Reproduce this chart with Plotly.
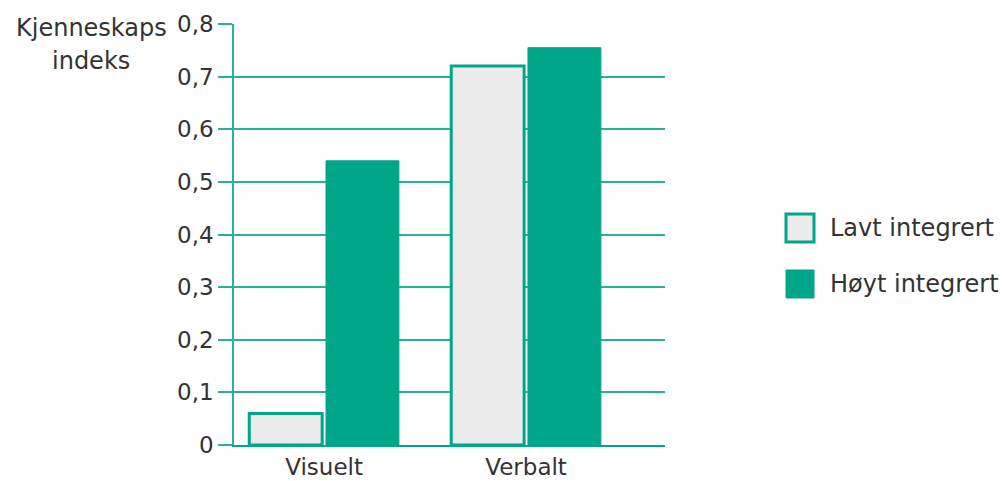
import plotly.graph_objects as go

categories = ["Visuelt", "Verbalt"]
lavt_integrert = [0.06, 0.72]
hoyt_integrert = [0.54, 0.755]
series_names = ["Lavt integrert", "Høyt integrert"]
y_ticks = [0, 0.1, 0.2, 0.3, 0.4, 0.5, 0.6, 0.7, 0.8]
y_title_lines = ["Kjenneskaps", "indeks"]

TEAL = "#00a68a"
GRID = "#27b39a"
LIGHT = "#ebebeb"
TXT = "#333333"
FONT = "DejaVu Sans"
FS = 23

W, H = 1005, 481
L, R, T, B = 234, 340, 24, 36
PW, PH = W - L - R, H - T - B

def px(x):
    return (x - L) / PW

def py(y):
    return 1 - (y - T) / PH

fig = go.Figure()
fig.add_trace(go.Bar(x=categories, y=lavt_integrert, name=series_names[0],
                     marker=dict(color=LIGHT, line=dict(color=TEAL, width=3)),
                     showlegend=False))
fig.add_trace(go.Bar(x=categories, y=hoyt_integrert, name=series_names[1],
                     marker=dict(color=TEAL, line=dict(color=TEAL, width=1)),
                     showlegend=False))

fig.update_layout(
    width=W, height=H,
    margin=dict(l=L, r=R, t=T, b=B, pad=0, autoexpand=False),
    paper_bgcolor="white", plot_bgcolor="white",
    barmode="group", bargap=0.24, bargroupgap=0.05,
    separators=", ",
    font=dict(family=FONT, size=FS, color=TXT),
    xaxis=dict(type="category", range=[-0.446, 1.688], showline=True,
               linecolor=TEAL, linewidth=2, ticks="", showgrid=False,
               tickfont=dict(size=FS), ticklabelstandoff=0, automargin=False),
    yaxis=dict(range=[0, 0.8], tickvals=y_ticks,
               ticktext=[("0" if v == 0 else f"{v:.1f}".replace(".", ",")) for v in y_ticks],
               showgrid=True, gridcolor=GRID, gridwidth=1.5,
               showline=True, linecolor=GRID, linewidth=1.5,
               ticks="outside", ticklen=14, tickcolor=GRID, tickwidth=1.5,
               tickfont=dict(size=FS), zeroline=False, automargin=False),
)

# y-axis title (two lines)
fig.add_annotation(x=px(91), y=py(28), xref="paper", yref="paper", text=y_title_lines[0],
                   showarrow=False, xanchor="center", yanchor="middle", font=dict(size=24))
fig.add_annotation(x=px(91), y=py(61), xref="paper", yref="paper", text=y_title_lines[1],
                   showarrow=False, xanchor="center", yanchor="middle", font=dict(size=24))

# custom legend
fig.add_shape(type="rect", xref="paper", yref="paper",
              x0=px(786), x1=px(814), y0=py(242), y1=py(214),
              fillcolor=LIGHT, line=dict(color=TEAL, width=3))
fig.add_shape(type="rect", xref="paper", yref="paper",
              x0=px(786), x1=px(814), y0=py(298), y1=py(270),
              fillcolor=TEAL, line=dict(color=TEAL, width=1))
fig.add_annotation(x=px(828), y=py(228), xref="paper", yref="paper", text=series_names[0],
                   showarrow=False, xanchor="left", yanchor="middle", font=dict(size=24))
fig.add_annotation(x=px(828), y=py(284), xref="paper", yref="paper", text=series_names[1],
                   showarrow=False, xanchor="left", yanchor="middle", font=dict(size=24))

fig.write_html("out.html")
